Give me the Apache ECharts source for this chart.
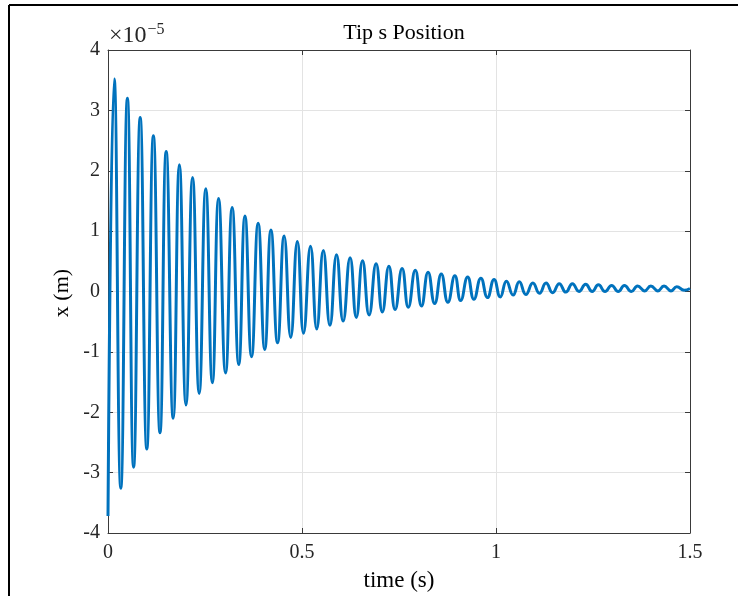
<!DOCTYPE html>
<html>
<head>
<meta charset="utf-8">
<script src="https://cdn.jsdelivr.net/npm/echarts@6/dist/echarts.min.js"></script>
<style>
html,body{margin:0;padding:0;background:#fff;}
#chart{width:748px;height:596px;}
</style>
</head>
<body>
<div id="chart"></div>
<script>
// time (s) of each read peak / trough
var timeS = [0, 0.016, 0.033, 0.050, 0.066, 0.083, 0.100, 0.117, 0.134, 0.150,
  0.168, 0.184, 0.201, 0.218, 0.235, 0.252, 0.269, 0.285, 0.303, 0.320,
  0.337, 0.353, 0.370, 0.387, 0.404, 0.420, 0.437, 0.454, 0.471, 0.488,
  0.504, 0.522, 0.538, 0.555, 0.572, 0.589, 0.606, 0.624, 0.640, 0.656,
  0.673, 0.691, 0.707, 0.724, 0.740, 0.758, 0.774, 0.792, 0.808, 0.825,
  0.842, 0.859, 0.876, 0.894, 0.909, 0.927, 0.943, 0.961, 0.978, 0.995,
  1.011, 1.027, 1.044, 1.060, 1.077, 1.095, 1.112, 1.129, 1.146, 1.163,
  1.180, 1.197, 1.214, 1.231, 1.248, 1.264, 1.281, 1.298, 1.315, 1.331,
  1.349, 1.365, 1.383, 1.399, 1.417, 1.433, 1.451, 1.466, 1.485, 1.500];
// tip x position, in units of 1e-5 m
var tipX = [-3.72, 3.52, -3.26, 3.20, -2.91, 2.88, -2.61, 2.58, -2.34, 2.32,
  -2.10, 2.10, -1.88, 1.89, -1.69, 1.70, -1.51, 1.54, -1.35, 1.39,
  -1.21, 1.25, -1.08, 1.13, -0.96, 1.02, -0.85, 0.92, -0.76, 0.83,
  -0.69, 0.75, -0.62, 0.68, -0.56, 0.61, -0.49, 0.56, -0.43, 0.51,
  -0.39, 0.46, -0.34, 0.42, -0.30, 0.38, -0.26, 0.35, -0.24, 0.32,
  -0.20, 0.29, -0.18, 0.26, -0.15, 0.24, -0.13, 0.22, -0.10, 0.20,
  -0.09, 0.17, -0.06, 0.16, -0.05, 0.14, -0.03, 0.14, -0.02, 0.13,
  -0.01, 0.13, 0.00, 0.12, 0.00, 0.11, 0.00, 0.10, 0.00, 0.10,
  0.00, 0.09, 0.01, 0.09, 0.01, 0.09, 0.01, 0.08, 0.02, 0.05];
var xTicks = [0, 0.5, 1, 1.5];
var yTicks = [-4, -3, -2, -1, 0, 1, 2, 3, 4];
var titleText = 'Tip s Position';
var xLabel = 'time (s)';
var yLabel = 'x (m)';

var pts = timeS.map(function (t, i) { return [t, tipX[i]]; });
var FONT = '"Liberation Serif", "DejaVu Serif", serif';
var AX = '#3a3a3a';
var chart = echarts.init(document.getElementById('chart'), null, {renderer: 'canvas'});
function xAx(pos, labels) {
  return {
    type: 'value', position: pos, min: 0, max: 1.5, interval: 0.5,
    axisLine: {show: true, onZero: false, lineStyle: {color: AX, width: 1}},
    axisTick: {show: true, inside: true, length: 5, lineStyle: {color: AX}},
    axisLabel: {show: labels, color: '#262626', fontFamily: FONT, fontSize: 20, margin: 10,
      formatter: function (v) { return xTicks.indexOf(v) >= 0 ? String(v) : ''; }},
    splitLine: {show: labels, lineStyle: {color: '#e3e3e3', width: 1}}
  };
}
function yAx(pos, labels) {
  return {
    type: 'value', position: pos, min: -4, max: 4, interval: 1,
    axisLine: {show: true, onZero: false, lineStyle: {color: AX, width: 1}},
    axisTick: {show: true, inside: true, length: 5, lineStyle: {color: AX}},
    axisLabel: {show: labels, color: '#262626', fontFamily: FONT, fontSize: 20, margin: 8,
      formatter: function (v) { return yTicks.indexOf(v) >= 0 ? String(v) : ''; }},
    splitLine: {show: labels, lineStyle: {color: '#e3e3e3', width: 1}}
  };
}
chart.setOption({
  animation: false,
  backgroundColor: '#fff',
  title: {text: titleText, left: 399, top: 17, textAlign: 'center',
    textStyle: {fontFamily: FONT, fontSize: 22, fontWeight: 'normal', color: '#000'}},
  grid: {left: 108, right: 58, top: 50, bottom: 63, containLabel: false},
  xAxis: [xAx('bottom', true), xAx('top', false)],
  yAxis: [yAx('left', true), yAx('right', false)],
  graphic: [
    {type: 'line', shape: {x1: 9, y1: 5, x2: 738, y2: 5}, style: {stroke: '#000', lineWidth: 2}},
    {type: 'line', shape: {x1: 9, y1: 5, x2: 9, y2: 596}, style: {stroke: '#000', lineWidth: 2}},
    {type: 'text', x: 399, y: 569, style: {text: xLabel, fontFamily: FONT, fontSize: 23, fill: '#000', align: 'center'}},
    {type: 'text', x: 51, y: 293, rotation: Math.PI / 2, style: {text: yLabel, fontFamily: FONT, fontSize: 22, fill: '#000', align: 'center'}},
    {type: 'text', x: 109, y: 22, style: {
      text: '{a|×10}{b|−5}', rich: {
        a: {fontFamily: FONT, fontSize: 24, fill: '#262626', verticalAlign: 'bottom', lineHeight: 26},
        b: {fontFamily: FONT, fontSize: 16, fill: '#262626', verticalAlign: 'top', lineHeight: 26, padding: [0, 0, 10, 1]}
      }}}
  ],
  series: [{
    type: 'line', data: pts, xAxisIndex: 0, yAxisIndex: 0,
    showSymbol: false, smooth: 0.5,
    lineStyle: {color: '#0072BD', width: 3}
  }]
});
</script>
</body>
</html>
